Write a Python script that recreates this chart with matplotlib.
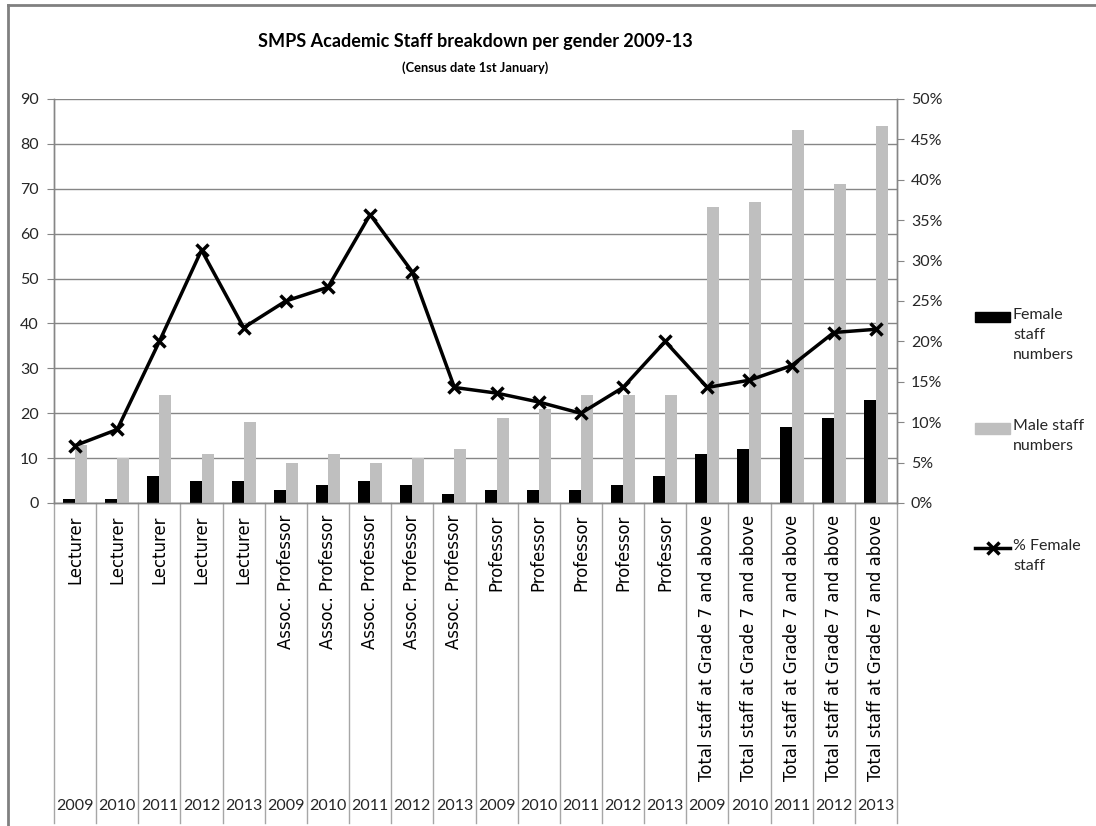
import matplotlib.pyplot as plt
from matplotlib.lines import Line2D
from matplotlib.patches import Rectangle

# -----------------------------
# DATA
# -----------------------------
grades = ["Lecturer"] * 5 + ["Assoc. Professor"] * 5 + ["Professor"] * 5 + \
         ["Total staff at Grade 7 and above"] * 5
years = ["2009", "2010", "2011", "2012", "2013"] * 4
female = [1, 1, 6, 5, 5, 3, 4, 5, 4, 2, 3, 3, 3, 4, 6, 11, 12, 17, 19, 23]
male = [13, 10, 24, 11, 18, 9, 11, 9, 10, 12, 19, 21, 24, 24, 24, 66, 67, 83, 71, 84]
pct_female = [7.1, 9.1, 20.0, 31.3, 21.7, 25.0, 26.7, 35.7, 28.6, 14.3,
              13.6, 12.5, 11.1, 14.3, 20.0, 14.3, 15.2, 17.0, 21.1, 21.5]

# -----------------------------
# STYLE
# -----------------------------
FONT = ["Lato", "DejaVu Sans"]
TXT = "#262626"
GRID = "#868686"
plt.rcParams['font.family'] = FONT

W, H = 1096, 826
fig = plt.figure(figsize=(W / 100, H / 100), dpi=100)
fig.patch.set_facecolor("white")

# plot area in pixels: x 54..897, y 99..503
ax = fig.add_axes([54 / W, 1 - 503 / H, (897 - 54) / W, (503 - 99) / H])
ax2 = ax.twinx()

x = list(range(len(female)))
bw = 0.285
ax.bar([i - bw / 2 for i in x], female, width=bw, color="black", zorder=3)
ax.bar([i + bw / 2 for i in x], male, width=bw, color="#bfbfbf", zorder=3)
ax2.plot(x, pct_female, color="black", lw=2.5, marker="x", ms=9, mew=2.5, zorder=4)

ax.set_xlim(-0.5, len(x) - 0.5)
ax.set_ylim(0, 90)
ax.set_yticks(range(0, 91, 10))
ax2.set_ylim(0, 50)
ax2.set_yticks(range(0, 51, 5))
ax2.set_yticklabels([f"{v}%" for v in range(0, 51, 5)])

ax.grid(axis="y", color=GRID, lw=1, zorder=0)
ax.set_axisbelow(True)
ax.set_xticks([])
for a in (ax, ax2):
    for s in a.spines.values():
        s.set_color(GRID)
        s.set_linewidth(1)
    a.spines["top"].set_visible(False)
ax.tick_params(axis="y", colors=GRID, labelcolor=TXT, labelsize=11.5, length=5, pad=6)
ax2.tick_params(axis="y", colors=GRID, labelcolor=TXT, labelsize=11.5, length=5, pad=5)

# -----------------------------
# MULTI-LEVEL CATEGORY AXIS
# -----------------------------
bottom = -(823 - 503) / (503 - 99)
trans = ax.get_xaxis_transform()
for i in range(len(x) + 1):
    ax.plot([i - 0.5, i - 0.5], [0, bottom], transform=trans, color="#a6a6a6",
            lw=1, clip_on=False)
for i in x:
    ax.text(i, -0.03, grades[i], transform=trans, rotation=90, ha="center", va="top",
            fontsize=11.9, family="DejaVu Sans", color="black")
    ax.text(i, -(806 - 503) / (503 - 99), years[i], transform=trans, ha="center",
            va="center", fontsize=11.5, color=TXT)

# -----------------------------
# TITLE
# -----------------------------
fig.text(475 / W, 1 - 42 / H, "SMPS Academic Staff breakdown per gender 2009-13",
         ha="center", va="center", fontsize=13, fontweight="bold", color="black")
fig.text(475 / W, 1 - 68 / H, "(Census date 1st January)", ha="center", va="center",
         fontsize=9.3, fontweight="bold", color="black")

# -----------------------------
# LEGEND
# -----------------------------
fig.add_artist(Rectangle((975 / W, 1 - 322 / H), 35 / W, 10 / H, color="black",
                         transform=fig.transFigure))
fig.add_artist(Rectangle((975 / W, 1 - 434 / H), 35 / W, 11 / H, color="#bfbfbf",
                         transform=fig.transFigure))
fig.add_artist(Line2D([975 / W, 1010 / W], [1 - 548 / H, 1 - 548 / H], color="black",
                      lw=2.5, transform=fig.transFigure))
fig.add_artist(Line2D([992.5 / W], [1 - 548 / H], color="black", marker="x", ms=9,
                      mew=2.5, transform=fig.transFigure))
for y, lab in [(317, "Female\nstaff\nnumbers"), (428, "Male staff\nnumbers"),
               (548, "% Female\nstaff")]:
    fig.text(1013 / W, 1 - (y - 9) / H, lab, ha="left", va="top", fontsize=11.5,
             linespacing=1.55, color=TXT)

# -----------------------------
# CHART BORDER
# -----------------------------
fig.add_artist(Line2D([8 / W, 1], [1 - 4.5 / H, 1 - 4.5 / H], color="#808080", lw=2,
                      transform=fig.transFigure))
fig.add_artist(Line2D([8 / W, 8 / W], [0, 1 - 4.5 / H], color="#808080", lw=2,
                      transform=fig.transFigure))

fig.savefig("out.png", dpi=100)
